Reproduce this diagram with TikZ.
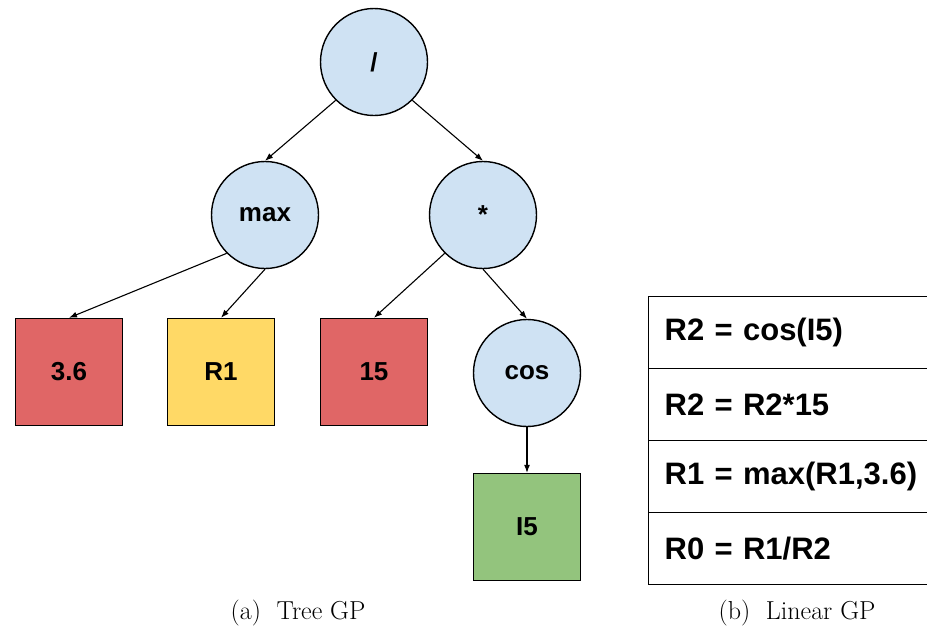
\documentclass[tikz,border=0pt]{standalone}
\usepackage{fontspec}
\newfontfamily\nodefont{Liberation Sans}
\usetikzlibrary{arrows.meta}
\definecolor{opblue}{HTML}{CFE2F3}
\definecolor{constred}{HTML}{E06666}
\definecolor{regyellow}{HTML}{FFD966}
\definecolor{inputgreen}{HTML}{93C47D}
\begin{document}
\begin{tikzpicture}[x=1pt,y=-1pt,
  opnode/.style={draw, circle, fill=opblue, line width=1.4pt, minimum size=107pt, inner sep=0pt, font=\nodefont\bfseries\fontsize{26}{30}\selectfont},
  leafnode/.style={draw, rectangle, line width=1.4pt, minimum size=107pt, inner sep=0pt, font=\nodefont\bfseries\fontsize{26}{30}\selectfont},
  instr/.style={draw, rectangle, line width=1.4pt, anchor=north west, minimum height=72pt, text width=270pt, inner xsep=16pt, align=left, font=\nodefont\bfseries\fontsize{31}{35}\selectfont},
  link/.style={-{Latex[length=8pt,width=6pt]}, line width=1.1pt},
  capt/.style={font=\fontsize{26}{30}\selectfont}]
\useasboundingbox (0,0) rectangle (927,630);
% tree GP
\node[opnode] (div) at (374,62) {/};
\node[opnode] (max) at (265,215) {max};
\node[opnode] (mul) at (483,215) {*};
\node[leafnode, fill=constred] (c36) at (69,372) {3.6};
\node[leafnode, fill=regyellow] (r1) at (221,372) {R1};
\node[leafnode, fill=constred] (c15) at (374,372) {15};
\node[opnode] (cos) at (527,373) {cos};
\node[leafnode, fill=inputgreen] (i5) at (527,527) {I5};
\draw[link] (div.225) -- (max.north);
\draw[link] (div.315) -- (mul.north);
\draw[link] (max.225) -- (c36.north);
\draw[link] (max.south) -- (r1.north);
\draw[link] (mul.225) -- (c15.north);
\draw[link] (mul.south) -- (cos.north);
\draw[link] (cos.south) -- (i5.north);
% linear GP
\node[instr] (ins1) at (648,296) {R2 = cos(I5)};
\node[instr] (ins2) at (648,368) {R2 = R2*15};
\node[instr] (ins3) at (648,440) {R1 = max(R1,3.6)};
\node[instr] (ins4) at (648,512) {R0 = R1/R2};
% captions
\node[capt] (capa) at (298,613) {(a)~~Tree GP};
\node[capt] (capb) at (797,613) {(b)~~Linear GP};
\end{tikzpicture}
\end{document}
